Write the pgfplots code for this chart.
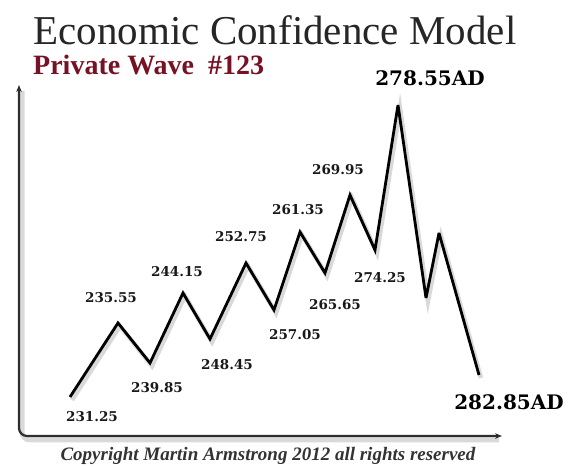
\documentclass[border=0pt]{standalone}
\usepackage{pgfplots}
\pgfplotsset{compat=1.18}
\usepackage{pgfplotstable}
\usepackage{fontspec}
\setmainfont{Liberation Serif}
\newfontfamily\lblfont{DejaVu Serif}
\usetikzlibrary{arrows.meta}

\definecolor{wavered}{RGB}{118,18,36}
\definecolor{axisgray}{RGB}{45,45,45}

% turning points of the wave (x, y measured from the corner of the axes)
\pgfplotstableread{
x   y
51  39
99  113
131 73
164 143
191 97
227 173
255 126
281 204
306 163
331 241
356 186
379 331
407 138
420 203
460 61
}\wave

\begin{document}
\begin{tikzpicture}
\useasboundingbox (0,0) rectangle (570pt,470pt);
\begin{axis}[
  at={(0pt,0pt)}, anchor=south west,
  scale only axis, width=570pt, height=470pt,
  xmin=-19, xmax=551, ymin=-34, ymax=436,
  hide axis, clip=false,
]
  % axes with soft shadow
  \draw[gray!30, line width=5pt, rounded corners=8pt]
    (axis cs:3,345) -- (axis cs:3,-4) -- (axis cs:480,-4);
  \draw[axisgray, line width=2.2pt, rounded corners=8pt, {Stealth[length=7pt,width=5.5pt]}-{Stealth[length=7pt,width=5.5pt]}]
    (axis cs:0,351) -- (axis cs:0,0) -- (axis cs:483,0);

  % wave with shadow
  \addplot[gray!30, line width=4.5pt, line join=miter, shift={(2pt,-3pt)}] table[x=x,y=y] {\wave};
  \addplot[black, line width=2.8pt, line join=miter, miter limit=4] table[x=x,y=y] {\wave};

  % dates
  \begin{scope}[font=\lblfont\bfseries\fontsize{13.5}{15}\selectfont, text=black!90]
    \node at (axis cs:73,19)   {231.25};
    \node at (axis cs:92,138)  {235.55};
    \node at (axis cs:138,48)  {239.85};
    \node at (axis cs:158,164) {244.15};
    \node at (axis cs:208,71)  {248.45};
    \node at (axis cs:222,199) {252.75};
    \node at (axis cs:276,101) {257.05};
    \node at (axis cs:279,226) {261.35};
    \node at (axis cs:316,131) {265.65};
    \node at (axis cs:319,266) {269.95};
    \node at (axis cs:361,158) {274.25};
  \end{scope}
  \node[font=\lblfont\bfseries\fontsize{20}{22}\selectfont] at (axis cs:411,358) {278.55AD};
  \node[font=\lblfont\bfseries\fontsize{20}{22}\selectfont] at (axis cs:490,34) {282.85AD};

  % titles
  \node[anchor=base, text=black!85, font=\fontsize{41}{45}\selectfont] at (axis cs:256,391) {Economic Confidence Model};
  \node[anchor=base west, text=wavered, font=\bfseries\fontsize{28}{30}\selectfont, inner sep=0pt] at (axis cs:14,361) {Private Wave \ \#123};
  \node[text=black!80, font=\bfseries\itshape\fontsize{19}{21}\selectfont] at (axis cs:249,-20) {Copyright Martin Armstrong 2012 all rights reserved};
\end{axis}
\end{tikzpicture}
\end{document}
